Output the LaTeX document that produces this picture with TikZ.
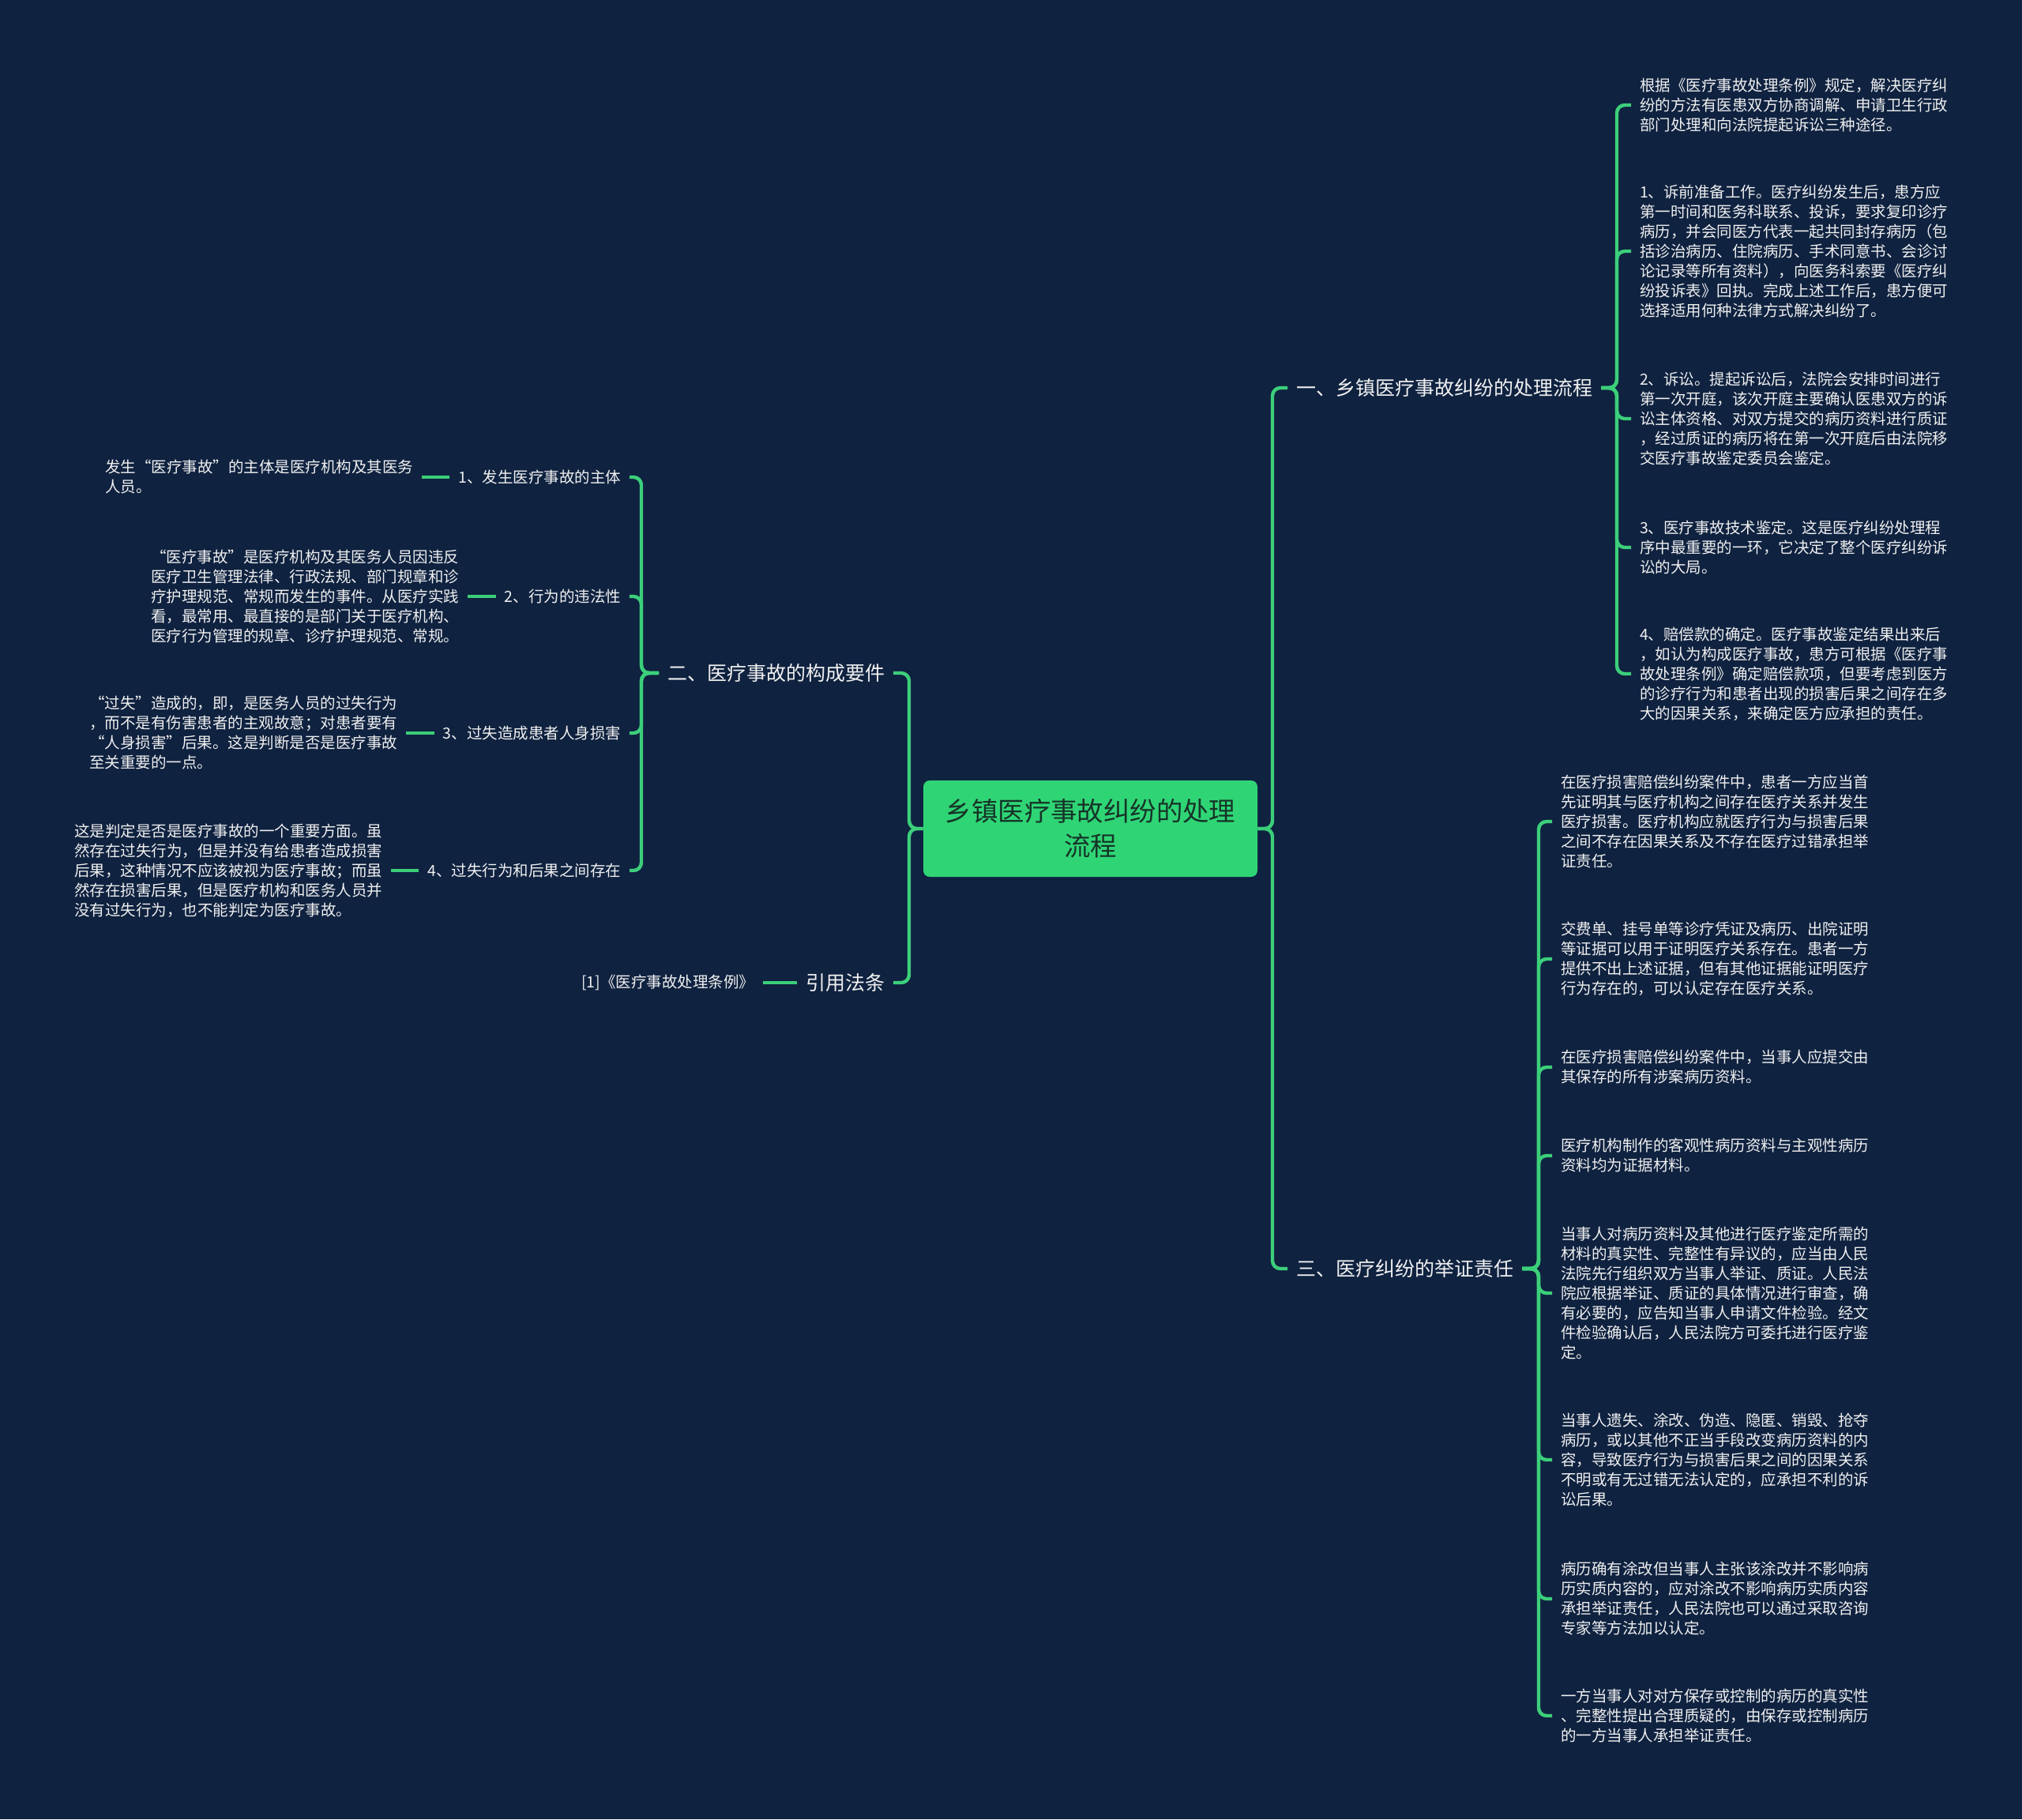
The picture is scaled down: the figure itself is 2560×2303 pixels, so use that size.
\documentclass[tikz,border=0pt]{standalone}
\usepackage{fontspec}
\newfontfamily\cjk{Noto Sans CJK SC}
\definecolor{bg}{RGB}{15,34,64}
\definecolor{lnk}{RGB}{60,207,122}
\definecolor{boxfill}{RGB}{47,213,117}
\definecolor{boxtext}{RGB}{22,52,40}
\definecolor{txt}{RGB}{240,240,240}
\tikzset{
  leaf/.style={font=\cjk\fontsize{9.75}{12.5}\selectfont, text=txt, align=left, inner sep=0pt, outer sep=5.5pt},
  branch/.style={font=\cjk\fontsize{12.5}{15}\selectfont, text=txt, inner sep=0pt, outer sep=5.5pt},
  root/.style={font=\cjk\fontsize{16.7}{22}\selectfont, text=boxtext, fill=boxfill, rounded corners=4pt, align=center, minimum width=211.5pt, minimum height=61pt},
  link/.style={draw=lnk, line width=2.2pt, rounded corners=5pt}
}
\begin{document}
\begin{tikzpicture}[x=0.5pt, y=-0.5pt]
      \useasboundingbox (0,0) rectangle (2560,2303);
      \fill[bg] (0,0) rectangle (2560,2303);
      \node[root] (root) at (1380.5,1049) {乡镇医疗事故纠纷的处理\\流程};
      % main branches
      \node[branch, anchor=west] (b1) at (1630,491) {一、乡镇医疗事故纠纷的处理流程};
      \node[branch, anchor=east] (b2) at (1131,852) {二、医疗事故的构成要件};
      \node[branch, anchor=west] (b3) at (1630,1606) {三、医疗纠纷的举证责任};
      \node[branch, anchor=east] (b4) at (1131,1244) {引用法条};
      \coordinate (t1) at (1611,1049);
      \coordinate (t2) at (1151,1049);
      \draw[link] (root.east) -- (t1) |- (b1.west);
      \draw[link] (root.east) -- (t1) |- (b3.west);
      \draw[link] (root.west) -- (t2) |- (b2.east);
      \draw[link] (root.west) -- (t2) |- (b4.east);
      % branch 1
      \node[leaf, anchor=west] (la) at (2065,133) {根据《医疗事故处理条例》规定，解决医疗纠\\纷的方法有医患双方协商调解、申请卫生行政\\部门处理和向法院提起诉讼三种途径。};
      \node[leaf, anchor=west] (lb) at (2065,318) {1、诉前准备工作。医疗纠纷发生后，患方应\\第一时间和医务科联系、投诉，要求复印诊疗\\病历，并会同医方代表一起共同封存病历（包\\括诊治病历、住院病历、手术同意书、会诊讨\\论记录等所有资料），向医务科索要《医疗纠\\纷投诉表》回执。完成上述工作后，患方便可\\选择适用何种法律方式解决纠纷了。};
      \node[leaf, anchor=west] (lc) at (2065,530) {2、诉讼。提起诉讼后，法院会安排时间进行\\第一次开庭，该次开庭主要确认医患双方的诉\\讼主体资格、对双方提交的病历资料进行质证\\，经过质证的病历将在第一次开庭后由法院移\\交医疗事故鉴定委员会鉴定。};
      \node[leaf, anchor=west] (ld) at (2065,693) {3、医疗事故技术鉴定。这是医疗纠纷处理程\\序中最重要的一环，它决定了整个医疗纠纷诉\\讼的大局。};
      \node[leaf, anchor=west] (le) at (2065,853) {4、赔偿款的确定。医疗事故鉴定结果出来后\\，如认为构成医疗事故，患方可根据《医疗事\\故处理条例》确定赔偿款项，但要考虑到医方\\的诊疗行为和患者出现的损害后果之间存在多\\大的因果关系，来确定医方应承担的责任。};
      \coordinate (s1) at (2047,491);
      \foreach \n in {la,lb,lc,ld,le}
        \draw[link] (b1.east) -- (s1) |- (\n.west);
      % branch 3
      \node[leaf, anchor=west] (ma) at (1965,1040) {在医疗损害赔偿纠纷案件中，患者一方应当首\\先证明其与医疗机构之间存在医疗关系并发生\\医疗损害。医疗机构应就医疗行为与损害后果\\之间不存在因果关系及不存在医疗过错承担举\\证责任。};
      \node[leaf, anchor=west] (mb) at (1965,1214) {交费单、挂号单等诊疗凭证及病历、出院证明\\等证据可以用于证明医疗关系存在。患者一方\\提供不出上述证据，但有其他证据能证明医疗\\行为存在的，可以认定存在医疗关系。};
      \node[leaf, anchor=west] (mc) at (1965,1351) {在医疗损害赔偿纠纷案件中，当事人应提交由\\其保存的所有涉案病历资料。};
      \node[leaf, anchor=west] (md) at (1965,1463) {医疗机构制作的客观性病历资料与主观性病历\\资料均为证据材料。};
      \node[leaf, anchor=west] (me) at (1965,1637) {当事人对病历资料及其他进行医疗鉴定所需的\\材料的真实性、完整性有异议的，应当由人民\\法院先行组织双方当事人举证、质证。人民法\\院应根据举证、质证的具体情况进行审查，确\\有必要的，应告知当事人申请文件检验。经文\\件检验确认后，人民法院方可委托进行医疗鉴\\定。};
      \node[leaf, anchor=west] (mf) at (1965,1848) {当事人遗失、涂改、伪造、隐匿、销毁、抢夺\\病历，或以其他不正当手段改变病历资料的内\\容，导致医疗行为与损害后果之间的因果关系\\不明或有无过错无法认定的，应承担不利的诉\\讼后果。};
      \node[leaf, anchor=west] (mg) at (1965,2024) {病历确有涂改但当事人主张该涂改并不影响病\\历实质内容的，应对涂改不影响病历实质内容\\承担举证责任，人民法院也可以通过采取咨询\\专家等方法加以认定。};
      \node[leaf, anchor=west] (mh) at (1965,2172) {一方当事人对对方保存或控制的病历的真实性\\、完整性提出合理质疑的，由保存或控制病历\\的一方当事人承担举证责任。};
      \coordinate (s3) at (1948,1606);
      \foreach \n in {ma,mb,mc,md,me,mf,mg,mh}
        \draw[link] (b3.east) -- (s3) |- (\n.west);
      % branch 2
      \node[leaf, anchor=east] (c1) at (797,604) {1、发生医疗事故的主体};
      \node[leaf, anchor=east] (c2) at (797,755) {2、行为的违法性};
      \node[leaf, anchor=east] (c3) at (797,928) {3、过失造成患者人身损害};
      \node[leaf, anchor=east] (c4) at (797,1102) {4、过失行为和后果之间存在};
      \coordinate (s2) at (812,852);
      \foreach \n in {c1,c2,c3,c4}
        \draw[link] (b2.west) -- (s2) |- (\n.east);
      \node[leaf, anchor=east] (d1) at (534,604) {发生“医疗事故”的主体是医疗机构及其医务\\人员。};
      \node[leaf, anchor=east] (d2) at (592,755) {“医疗事故”是医疗机构及其医务人员因违反\\医疗卫生管理法律、行政法规、部门规章和诊\\疗护理规范、常规而发生的事件。从医疗实践\\看，最常用、最直接的是部门关于医疗机构、\\医疗行为管理的规章、诊疗护理规范、常规。};
      \node[leaf, anchor=east] (d3) at (514,928) {“过失”造成的，即，是医务人员的过失行为\\，而不是有伤害患者的主观故意；对患者要有\\“人身损害”后果。这是判断是否是医疗事故\\至关重要的一点。};
      \node[leaf, anchor=east] (d4) at (495,1102) {这是判定是否是医疗事故的一个重要方面。虽\\然存在过失行为，但是并没有给患者造成损害\\后果，这种情况不应该被视为医疗事故；而虽\\然存在损害后果，但是医疗机构和医务人员并\\没有过失行为，也不能判定为医疗事故。};
      \draw[link] (c1.west) -- (d1.east);
      \draw[link] (c2.west) -- (d2.east);
      \draw[link] (c3.west) -- (d3.east);
      \draw[link] (c4.west) -- (d4.east);
      % branch 4
      \node[leaf, anchor=east] (e1) at (966,1244) {[1]《医疗事故处理条例》};
      \draw[link] (b4.west) -- (e1.east);
   \end{tikzpicture}
\end{document}
